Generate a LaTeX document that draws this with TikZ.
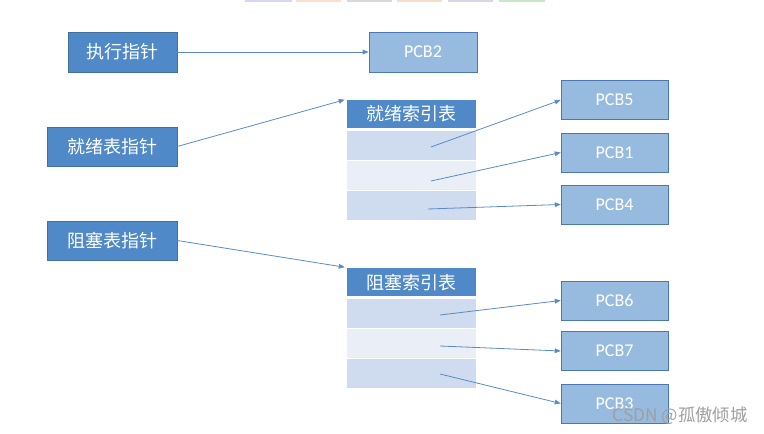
\documentclass[tikz,border=0pt]{standalone}
\usepackage{fontspec}
\newfontfamily\cjk{Noto Sans CJK SC}
\newfontfamily\pcbfont{Carlito}
\usetikzlibrary{calc,arrows.meta}
\definecolor{ptrblue}{HTML}{5089C8}
\definecolor{ptredge}{HTML}{41719C}
\definecolor{pcbblue}{HTML}{97BADF}
\definecolor{pcbedge}{HTML}{4A78B0}
\definecolor{rowdark}{HTML}{CFDBEE}
\definecolor{rowlight}{HTML}{E9EEF7}
\definecolor{linkblue}{HTML}{5A8BC8}
\tikzset{
  ptr/.style={draw=ptredge, fill=ptrblue, text=white, inner sep=0pt,
    minimum height=30pt, font=\cjk\fontsize{13.5}{15}\selectfont},
  pcb/.style={draw=pcbedge, fill=pcbblue, text=white, inner sep=0pt,
    minimum width=80.25pt, minimum height=29.25pt, font=\pcbfont\fontsize{13.5}{15}\selectfont},
  tabhead/.style={fill=ptrblue, text=white, inner sep=0pt,
    minimum width=96.75pt, minimum height=21pt, font=\cjk\fontsize{13.5}{15}\selectfont},
  tabrow/.style={inner sep=0pt, minimum width=96.75pt, minimum height=21.75pt},
  link/.style={->, draw=linkblue, line width=0.6pt}
}
\begin{document}
\begin{tikzpicture}[x=0.75pt, y=-0.75pt, >={Triangle[length=4.5pt,width=3.5pt]}]
\useasboundingbox (0,0) rectangle (764,434);
% strip at the top
\fill[fill=gray!40!blue!20] (245,0) rectangle (292,2);
\fill[fill=red!30!orange!20] (296,0) rectangle (341,2);
\fill[fill=gray!30] (347,0) rectangle (392,2);
\fill[fill=orange!40!brown!25] (397,0) rectangle (442,2);
\fill[fill=blue!30!gray!25] (448,0) rectangle (493,2);
\fill[fill=green!40!gray!30] (499,0) rectangle (545,2);
% pointers
\node[ptr, minimum width=81.75pt] (exec) at (122.5,52) {执行指针};
\node[ptr, minimum width=97.5pt, minimum height=29.25pt] (ready) at (112,146.5) {就绪表指针};
\node[ptr, minimum width=97.5pt, minimum height=29.25pt] (block) at (112,240.5) {阻塞表指针};
\node[pcb, minimum width=81pt, minimum height=30pt] (pcb2) at (423,52) {PCB2};
% ready index table
\node[tabhead] (rhead) at (411.5,114) {就绪索引表};
\node[tabrow, fill=rowdark] (r1) at (411.5,145.5) {};
\node[tabrow, fill=rowlight] (r2) at (411.5,175.5) {};
\node[tabrow, fill=rowdark] (r3) at (411.5,205.5) {};
% blocked index table
\node[tabhead] (bhead) at (411.5,282.5) {阻塞索引表};
\node[tabrow, fill=rowdark] (b1) at (411.5,313.5) {};
\node[tabrow, fill=rowlight] (b2) at (411.5,343.5) {};
\node[tabrow, fill=rowdark] (b3) at (411.5,373.5) {};
% process control blocks
\node[pcb] (pcb5) at (614.5,100) {PCB5};
\node[pcb] (pcb1) at (614.5,152.5) {PCB1};
\node[pcb] (pcb4) at (614.5,204.5) {PCB4};
\node[pcb] (pcb6) at (614.5,300.5) {PCB6};
\node[pcb] (pcb7) at (614.5,351) {PCB7};
\node[pcb] (pcb3) at (614.5,403.5) {PCB3};
% links
\draw[link] (exec.east) -- (pcb2.west);
\draw[link] (ready.east) -- ($(rhead.north west)+(-2,0)$);
\draw[link] (block.east) -- ($(bhead.north west)+(-2,-1)$);
\draw[link] ($(r1.center)+(19.5,1.5)$) -- (pcb5.west);
\draw[link] ($(r2.center)+(19.5,5.5)$) -- (pcb1.west);
\draw[link] ($(r3.center)+(16.5,3.5)$) -- (pcb4.west);
\draw[link] ($(b1.center)+(28.5,1.5)$) -- (pcb6.west);
\draw[link] ($(b2.center)+(28.5,2.5)$) -- (pcb7.west);
\draw[link] ($(b3.center)+(28.5,0.5)$) -- (pcb3.west);
% watermark
\node[text=gray!75, inner sep=0pt, font=\cjk\fontsize{13}{15}\selectfont] (mark) at (680,416) {CSDN @孤傲倾城};
\end{tikzpicture}
\end{document}
